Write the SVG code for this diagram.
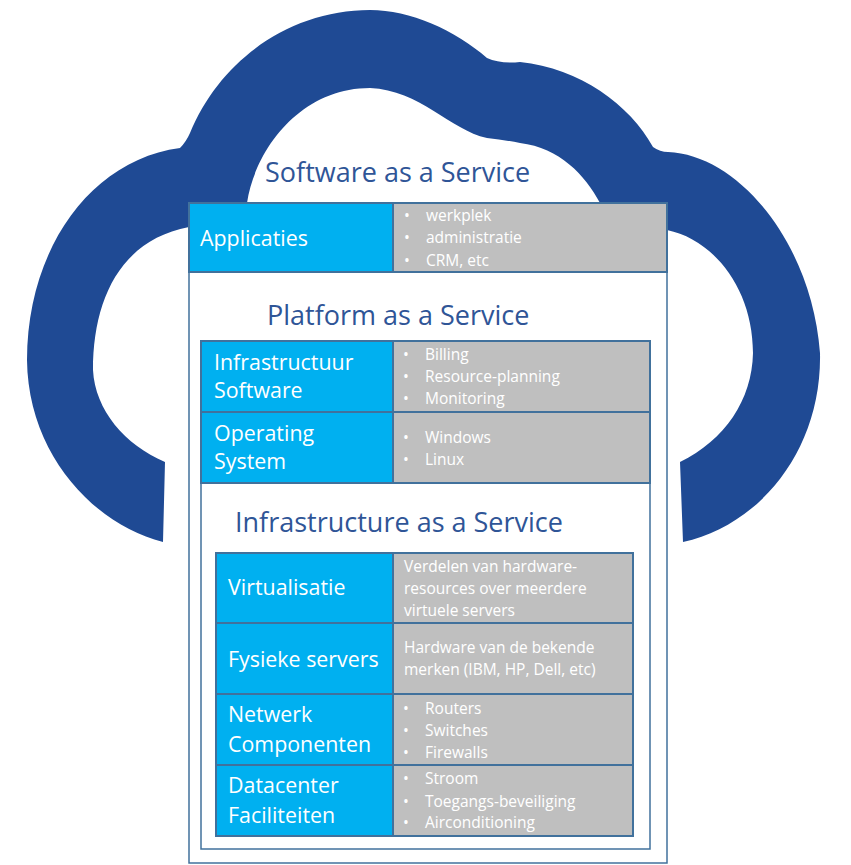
<svg xmlns="http://www.w3.org/2000/svg" width="851" height="865" viewBox="0 0 851 865">
<style>
.box{fill:#ffffff;stroke:#41719C;stroke-width:1.5}
.lab{fill:#00B0F0;stroke:#41719C;stroke-width:2}
.det{fill:#BFBFBF;stroke:#41719C;stroke-width:2}
.title{font-family:"Open Sans","Noto Sans",sans-serif;font-size:27px;fill:#2F5597}
.lt{font-family:"Open Sans","Noto Sans",sans-serif;font-size:21.4px;fill:#ffffff}
.st{font-family:"Open Sans","Noto Sans",sans-serif;font-size:15.5px;fill:#ffffff}
</style>
<rect width="851" height="865" fill="#ffffff"/>
<g id="cloud">
<path fill="#1F4A94" d="M163,542 C95,525 28,455 27,360 C27,250 90,160 180,148 Q186,142 190,133 C220,60 290,10 370,10 C410,10 455,30 487,58 Q500,64 520,62 C580,68 630,105 653,147 Q660,152 668,152 C740,155 812,245 820,353 C822,450 760,525 683,542 L680,462 C725,440 752,400 753,353 C753,290 715,240 667,230 L600,203 C585,175 560,148 520,143 Q505,140 487,138 C450,130 420,90 370,88 C300,88 255,150 247,203 L189,227 C120,240 93,300 93,370 C95,410 125,445 165,462 Z"/>
</g>
<g id="saas">
<rect class="box" x="189" y="203" width="478" height="660"/>
<text class="title" x="265" y="182">Software as a Service</text>
</g>
<g id="applicaties">
<rect class="lab" x="189" y="203" width="204" height="69"/>
<rect class="det" x="393" y="203" width="274" height="69"/>
<text class="lt" x="200" y="246">Applicaties</text>
<text class="st" x="404" y="221">•</text><text class="st" x="426" y="221">werkplek</text>
<text class="st" x="404" y="243">•</text><text class="st" x="426" y="243">administratie</text>
<text class="st" x="404" y="266">•</text><text class="st" x="426" y="266">CRM, etc</text>
</g>
<g id="paas">
<rect class="box" x="201" y="341" width="449" height="508"/>
<text class="title" x="267" y="325">Platform as a Service</text>
</g>
<g id="infra-software">
<rect class="lab" x="201" y="341" width="192" height="71"/>
<rect class="det" x="393" y="341" width="257" height="71"/>
<text class="lt" x="214" y="370">Infrastructuur</text>
<text class="lt" x="214" y="398">Software</text>
<text class="st" x="403" y="360">•</text><text class="st" x="425" y="360">Billing</text>
<text class="st" x="403" y="382">•</text><text class="st" x="425" y="382">Resource-planning</text>
<text class="st" x="403" y="404">•</text><text class="st" x="425" y="404">Monitoring</text>
</g>
<g id="operating-system">
<rect class="lab" x="201" y="412" width="192" height="71"/>
<rect class="det" x="393" y="412" width="257" height="71"/>
<text class="lt" x="214" y="441">Operating</text>
<text class="lt" x="214" y="469">System</text>
<text class="st" x="403" y="443">•</text><text class="st" x="425" y="443">Windows</text>
<text class="st" x="403" y="465">•</text><text class="st" x="425" y="465">Linux</text>
</g>
<g id="iaas">
<text class="title" x="235" y="532">Infrastructure as a Service</text>
</g>
<g id="virtualisatie">
<rect class="lab" x="216" y="553" width="177" height="70"/>
<rect class="det" x="393" y="553" width="240" height="70"/>
<text class="lt" x="228" y="595">Virtualisatie</text>
<text class="st" x="404" y="572">Verdelen van hardware-</text>
<text class="st" x="404" y="594">resources over meerdere</text>
<text class="st" x="404" y="616">virtuele servers</text>
</g>
<g id="fysieke-servers">
<rect class="lab" x="216" y="623" width="177" height="71"/>
<rect class="det" x="393" y="623" width="240" height="71"/>
<text class="lt" x="228" y="667">Fysieke servers</text>
<text class="st" x="404" y="653">Hardware van de bekende</text>
<text class="st" x="404" y="675">merken (IBM, HP, Dell, etc)</text>
</g>
<g id="netwerk">
<rect class="lab" x="216" y="694" width="177" height="71"/>
<rect class="det" x="393" y="694" width="240" height="71"/>
<text class="lt" x="228" y="722">Netwerk</text>
<text class="lt" x="228" y="752">Componenten</text>
<text class="st" x="403" y="714">•</text><text class="st" x="425" y="714">Routers</text>
<text class="st" x="403" y="736">•</text><text class="st" x="425" y="736">Switches</text>
<text class="st" x="403" y="758">•</text><text class="st" x="425" y="758">Firewalls</text>
</g>
<g id="datacenter">
<rect class="lab" x="216" y="765" width="177" height="71"/>
<rect class="det" x="393" y="765" width="240" height="71"/>
<text class="lt" x="228" y="793">Datacenter</text>
<text class="lt" x="228" y="823">Faciliteiten</text>
<text class="st" x="403" y="784">•</text><text class="st" x="425" y="784">Stroom</text>
<text class="st" x="403" y="807">•</text><text class="st" x="425" y="807">Toegangs-beveiliging</text>
<text class="st" x="403" y="828">•</text><text class="st" x="425" y="828">Airconditioning</text>
</g>
<g id="connectors"></g>
</svg>
